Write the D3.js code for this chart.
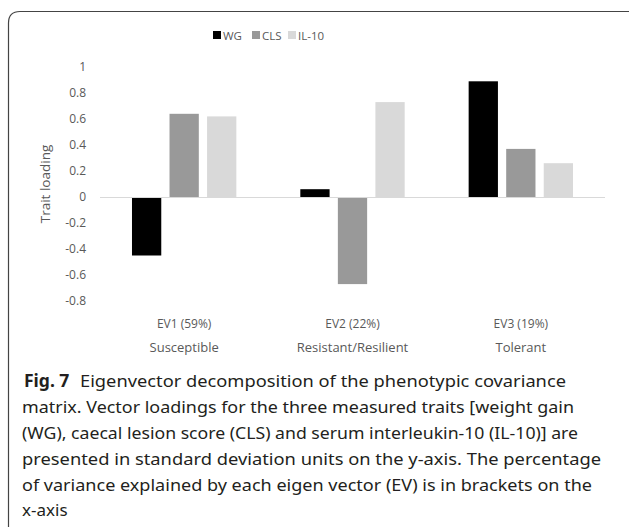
<!DOCTYPE html>
<html>
<head>
<meta charset="utf-8">
<script src="https://cdn.jsdelivr.net/npm/d3@7"></script>
<style>
  body { margin: 0; background: #fff; }
  svg { display: block; }
</style>
</head>
<body>
<div class="chart"></div>
<script>
// chart data
var categories = ["EV1", "EV2", "EV3"];
var catLabels = ["EV1 (59%)", "EV2 (22%)", "EV3 (19%)"];
var catNames = ["Susceptible", "Resistant/Resilient", "Tolerant"];
var seriesNames = ["WG", "CLS", "IL-10"];
var wgValues = [-0.45, 0.06, 0.89];
var clsValues = [0.64, -0.67, 0.37];
var il10Values = [0.62, 0.73, 0.26];
var yTicks = [1, 0.8, 0.6, 0.4, 0.2, 0, -0.2, -0.4, -0.6, -0.8];
var captionLines = [
  "Eigenvector decomposition of the phenotypic covariance",
  "matrix. Vector loadings for the three measured traits [weight gain",
  "(WG), caecal lesion score (CLS) and serum interleukin-10 (IL-10)] are",
  "presented in standard deviation units on the y-axis. The percentage",
  "of variance explained by each eigen vector (EV) is in brackets on the",
  "x-axis"
];

var svgWidth = 629;
var svgHeight = 527;
var colors = ["#000000", "#999999", "#d9d9d9"];
var textColor = "#595959";
var labelFont = "'Open Sans', sans-serif";

var svg = d3.select(".chart")
  .append("svg")
  .attr("width", svgWidth)
  .attr("height", svgHeight);

// rounded frame round the figure
svg.append("path")
  .attr("d", "M8.5,540 L8.5,23 Q8.5,11.5 20,11.5 L640,11.5")
  .attr("fill", "none")
  .attr("stroke", "#444")
  .attr("stroke-width", 1.2);

var plot = { left: 100, right: 605, top: 67, bottom: 301 };

var x0 = d3.scaleBand()
  .domain(categories)
  .range([plot.left, plot.right])
  .paddingInner(0.38)
  .paddingOuter(0.19);

var x1 = d3.scaleBand()
  .domain(seriesNames)
  .range([0, x0.bandwidth()])
  .paddingInner(0.22);

var y = d3.scaleLinear().domain([-0.8, 1]).range([plot.bottom, plot.top]);

var table = categories.map(function(c, i) {
  return { cat: c, vals: [wgValues[i], clsValues[i], il10Values[i]] };
});

// y tick labels (no axis line, like Excel)
var leftAxis = d3.axisLeft(y).tickValues(yTicks).tickSize(0).tickPadding(0)
  .tickFormat(function(d) { return String(+d.toFixed(1)); });
var yAxisG = svg.append("g")
  .attr("transform", "translate(86,0)")
  .call(leftAxis);
yAxisG.select(".domain").remove();
yAxisG.selectAll("text")
  .style("font-family", labelFont)
  .style("font-size", "12px")
  .attr("fill", textColor);

// bars
var groups = svg.append("g").selectAll("g")
  .data(table)
  .enter()
  .append("g")
  .attr("transform", function(d) { return "translate(" + x0(d.cat) + ",0)"; });

groups.selectAll("rect")
  .data(function(d) { return d.vals.map(function(v, j) { return { name: seriesNames[j], v: v, j: j }; }); })
  .enter()
  .append("rect")
  .attr("x", function(d) { return x1(d.name); })
  .attr("width", x1.bandwidth())
  .attr("y", function(d) { return y(Math.max(0, d.v)); })
  .attr("height", function(d) { return Math.abs(y(d.v) - y(0)); })
  .attr("fill", function(d) { return colors[d.j]; });

// zero line
svg.append("line")
  .attr("x1", plot.left).attr("x2", plot.right)
  .attr("y1", y(0) + 0.5).attr("y2", y(0) + 0.5)
  .attr("stroke", "#d9d9d9")
  .attr("stroke-width", 1);

// x category labels
var xLab = svg.append("g")
  .style("font-family", labelFont)
  .style("font-size", "12px")
  .attr("fill", textColor)
  .attr("text-anchor", "middle");
xLab.selectAll("text.ev")
  .data(categories)
  .enter().append("text")
  .attr("class", "ev")
  .attr("x", function(d) { return x0(d) + x0.bandwidth() / 2; })
  .attr("y", 328)
  .text(function(d, i) { return catLabels[i]; });
xLab.selectAll("text.nm")
  .data(categories)
  .enter().append("text")
  .attr("class", "nm")
  .attr("x", function(d) { return x0(d) + x0.bandwidth() / 2; })
  .attr("y", 352)
  .style("font-size", "13px")
  .text(function(d, i) { return catNames[i]; });

// y axis title
svg.append("text")
  .attr("transform", "translate(50," + 184 + ") rotate(-90)")
  .attr("text-anchor", "middle")
  .style("font-family", labelFont)
  .style("font-size", "13.5px")
  .attr("fill", textColor)
  .text("Trait loading");

// legend
var legendX = [213, 252, 288];
var legend = svg.append("g")
  .style("font-family", labelFont)
  .style("font-size", "11.5px")
  .attr("fill", textColor);
legend.selectAll("rect")
  .data(seriesNames)
  .enter().append("rect")
  .attr("x", function(d, i) { return legendX[i]; })
  .attr("y", 31)
  .attr("width", 8).attr("height", 8)
  .attr("fill", function(d, i) { return colors[i]; });
legend.selectAll("text")
  .data(seriesNames)
  .enter().append("text")
  .attr("x", function(d, i) { return legendX[i] + 10; })
  .attr("y", 39.5)
  .text(function(d) { return d; });

// caption
var cap = svg.append("g")
  .style("font-family", "'Noto Sans', sans-serif")
  .style("font-size", "17px")
  .attr("fill", "#231f20");
var capY = [387, 413, 439, 465, 491, 516];
var capEnds = [566, 574, 578, 601, 592, null];
captionLines.forEach(function(line, i) {
  var t = cap.append("text")
    .attr("x", 22)
    .attr("y", capY[i]);
  if (i === 0) {
    t.append("tspan").attr("x", 24).style("font-weight", "bold").style("font-size", "17.5px").text("Fig. 7");
    t.append("tspan").attr("x", 80)
      .attr("textLength", capEnds[i] - 80).attr("lengthAdjust", "spacingAndGlyphs")
      .text(line);
  } else {
    t.text(line);
    if (capEnds[i]) t.attr("textLength", capEnds[i] - 22).attr("lengthAdjust", "spacingAndGlyphs");
  }
});
</script>
</body>
</html>
